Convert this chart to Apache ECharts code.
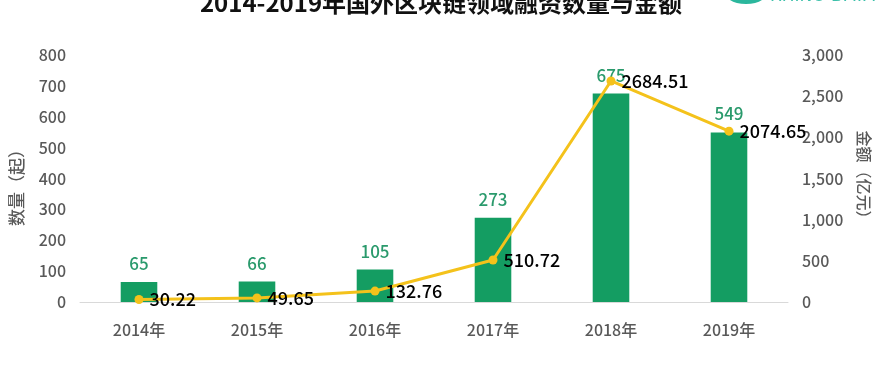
<!DOCTYPE html>
<html><head><meta charset="utf-8">
<script src="https://cdn.jsdelivr.net/npm/echarts@6/dist/echarts.min.js"></script>
<style>html,body{margin:0;padding:0;background:#fff}#c{width:882px;height:387px}</style>
</head><body><div id="c"></div>
<script>
const titleText = '2014-2019年国外区块链领域融资数量与金额';
const categories = ['2014年','2015年','2016年','2017年','2018年','2019年'];
const counts = [65, 66, 105, 273, 675, 549];
const amounts = [30.22, 49.65, 132.76, 510.72, 2684.51, 2074.65];
const countName = '数量（起）';
const amountName = '金额（亿元）';

const FONT = '"Noto Sans CJK SC", "DejaVu Sans", sans-serif';
const chart = echarts.init(document.getElementById('c'));
chart.setOption({
  backgroundColor: '#fff',
  animation: false,
  title: { text: titleText, left: 'center', top: -14, textStyle: { fontFamily: FONT, fontSize: 24, fontWeight: 'bold', color: '#111' } },
  graphic: [
    { type: 'ellipse', shape: { cx: 746, cy: -6, rx: 20, ry: 10 }, style: { fill: '#2bb79d' } },
    { type: 'text', left: 770, top: -12, style: { text: 'RHINO DATA', fill: '#3cc0aa', font: '17px "DejaVu Sans", sans-serif' } }
  ],
  legend: { top: 384, left: 'center', itemWidth: 14, itemHeight: 14, textStyle: { fontFamily: FONT, fontSize: 14, color: '#999' }, data: [countName, amountName] },
  grid: { left: 80, right: 94, top: 55, bottom: 85, containLabel: false },
  xAxis: {
    type: 'category', data: categories,
    axisLine: { lineStyle: { color: '#d9d9d9', width: 1 } },
    axisTick: { show: false },
    axisLabel: { color: '#595959', fontSize: 16, fontFamily: FONT, fontWeight: 500, margin: 20 }
  },
  yAxis: [
    { type: 'value', min: 0, max: 800, interval: 100, name: countName, nameLocation: 'middle', nameGap: 55,
      nameTextStyle: { color: '#595959', fontSize: 17, fontFamily: FONT, fontWeight: 500, padding: [0, 10, 0, 0] },
      axisLine: { show: false }, axisTick: { show: false }, splitLine: { show: false },
      axisLabel: { color: '#595959', fontSize: 16, fontFamily: FONT, fontWeight: 500, margin: 14 } },
    { type: 'value', min: 0, max: 3000, interval: 500, name: amountName, nameLocation: 'middle', nameGap: 68, nameRotate: -90,
      nameTextStyle: { color: '#595959', fontSize: 16, fontFamily: FONT, fontWeight: 500 },
      axisLine: { show: false }, axisTick: { show: false }, splitLine: { show: false },
      axisLabel: { color: '#595959', fontSize: 16, fontFamily: FONT, fontWeight: 500, margin: 14,
        formatter: v => v.toLocaleString('en-US') } }
  ],
  series: [
    { name: countName, type: 'bar', data: counts, barWidth: '31%', yAxisIndex: 0,
      itemStyle: { color: '#149d62' },
      label: { show: true, position: 'top', distance: 10, color: '#2a9a6c', fontSize: 17, fontFamily: FONT, fontWeight: 500 } },
    { name: amountName, type: 'line', data: amounts, yAxisIndex: 1,
      symbol: 'circle', symbolSize: 9,
      lineStyle: { color: '#f4c21b', width: 3 }, itemStyle: { color: '#f4c21b' },
      label: { show: true, position: 'right', distance: 6, color: '#000', fontSize: 18, fontFamily: FONT, fontWeight: 500 } }
  ]
});
</script></body></html>
